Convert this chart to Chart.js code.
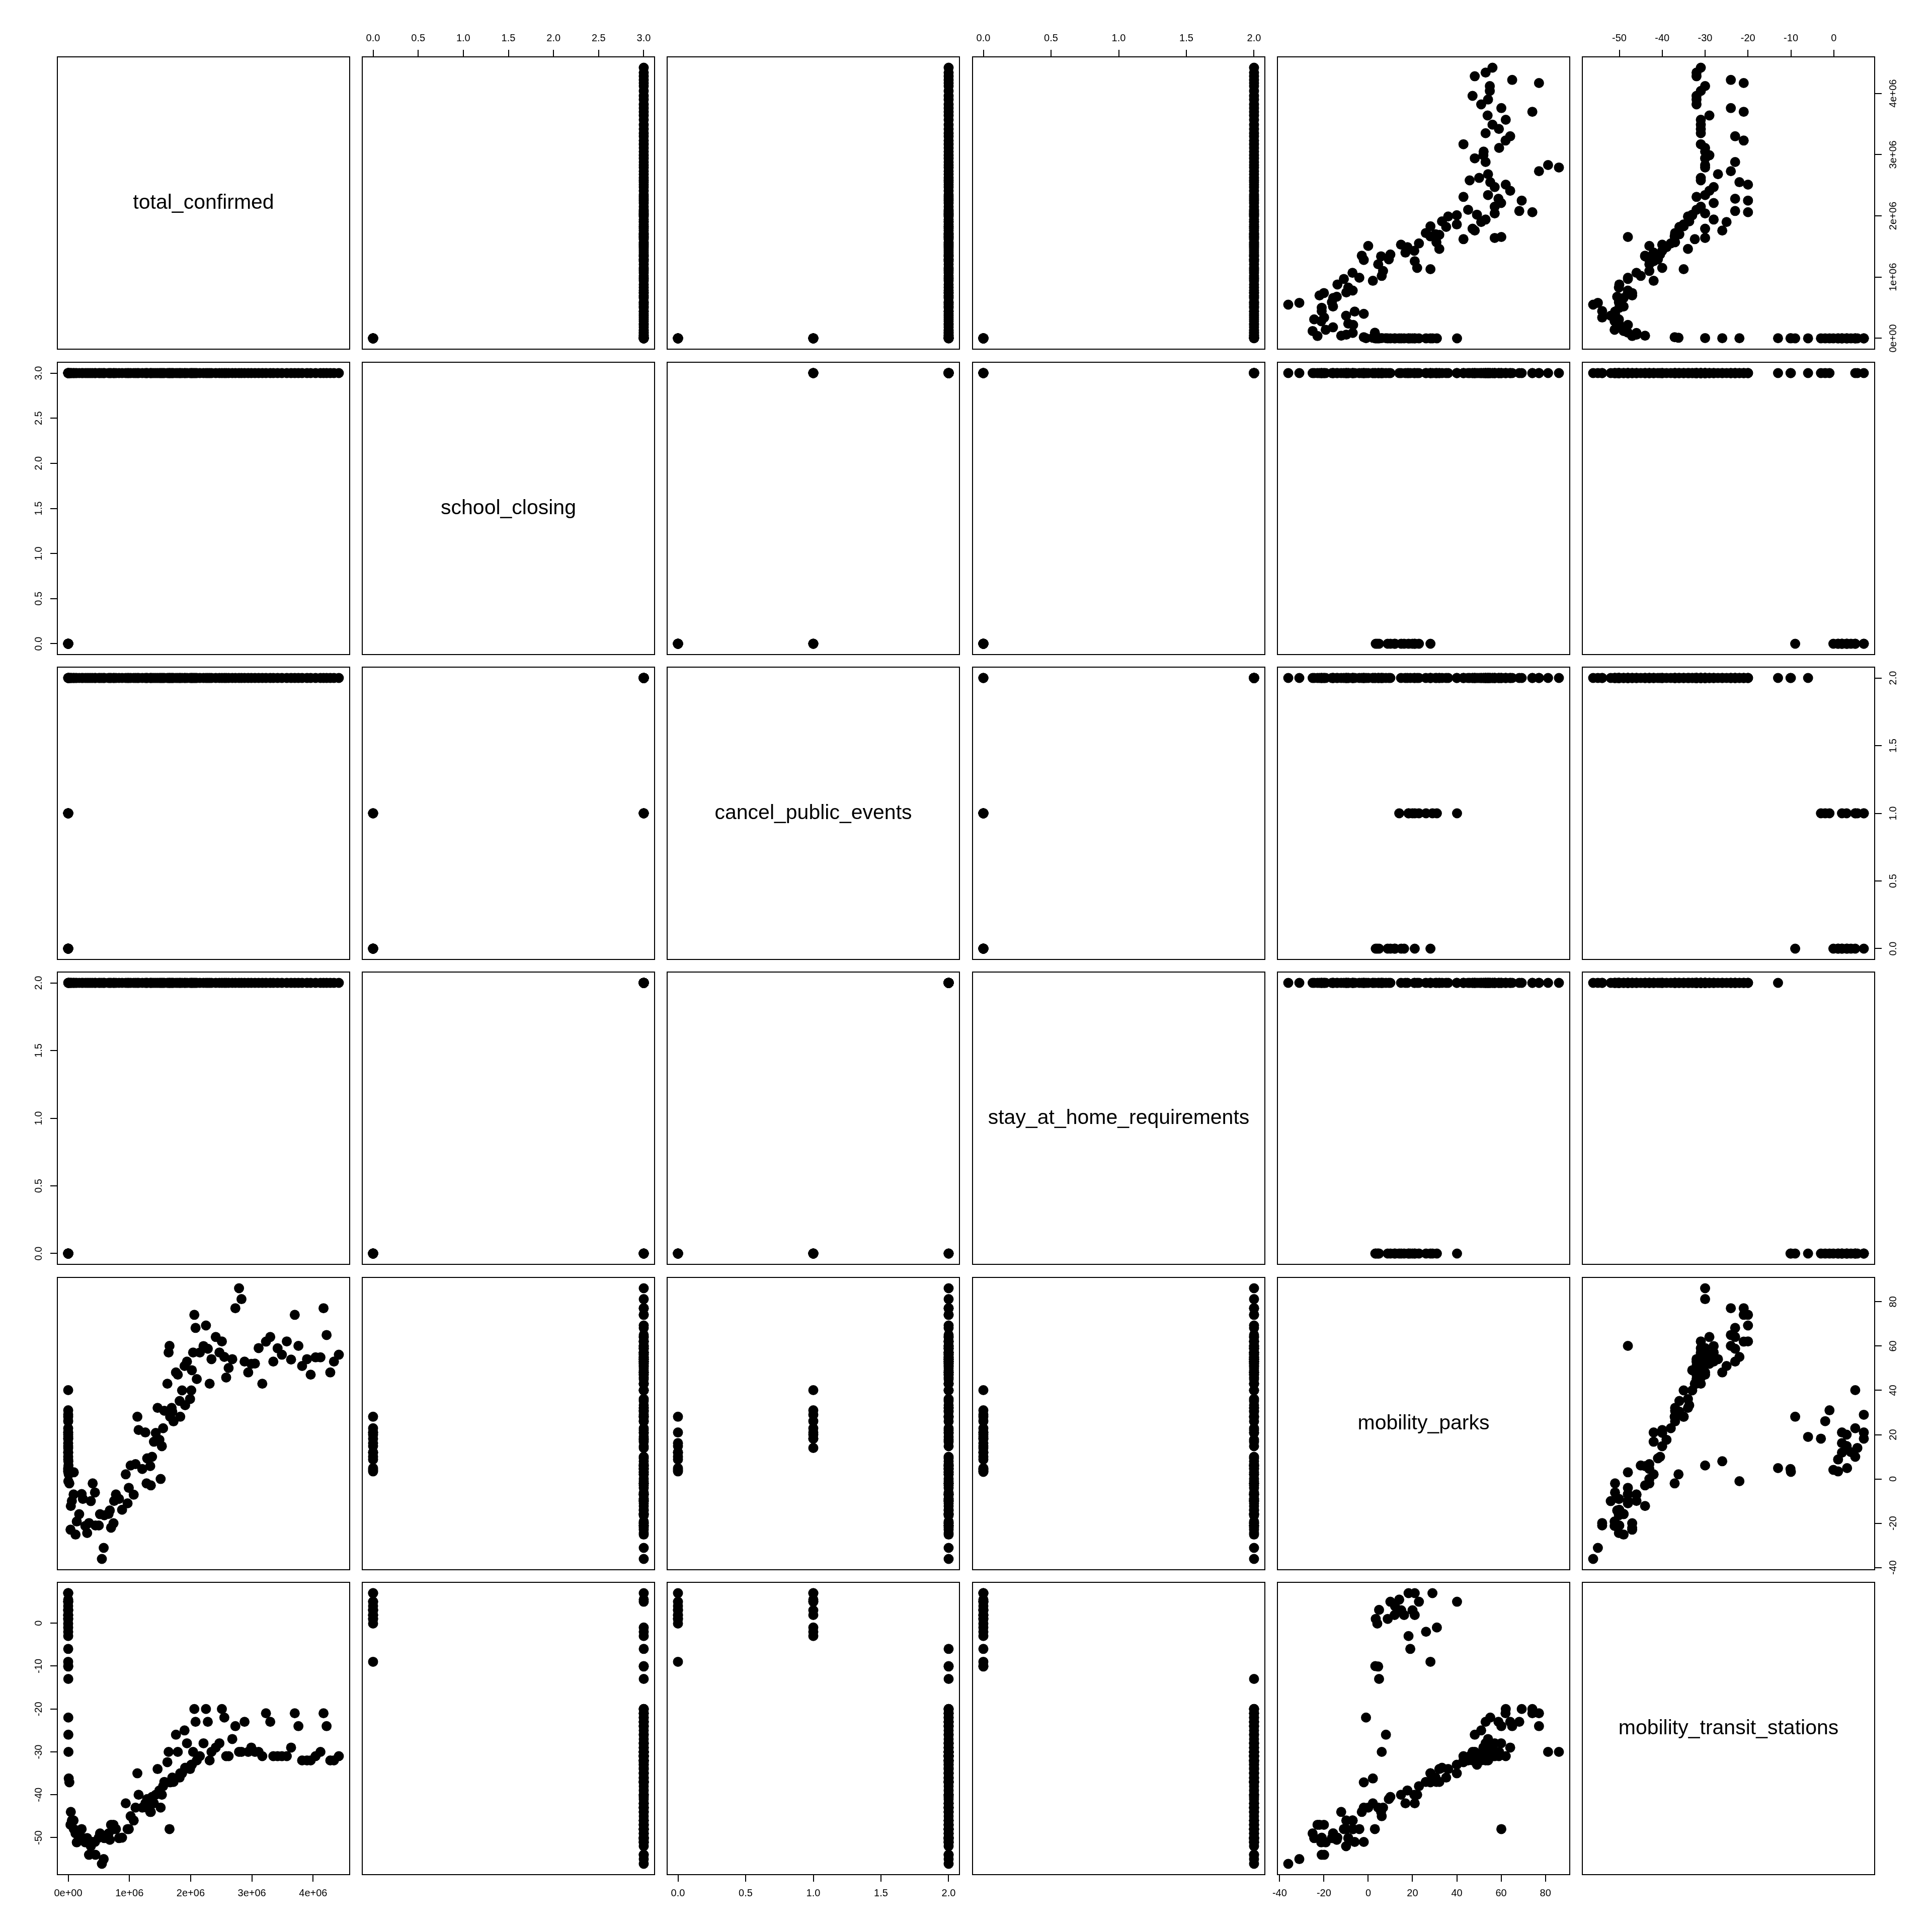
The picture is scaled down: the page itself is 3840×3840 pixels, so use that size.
<!DOCTYPE html>
<html>
<head>
<meta charset="utf-8">
<title>Scatterplot matrix</title>
<script src="https://cdn.jsdelivr.net/npm/chart.js@4.4.1/dist/chart.umd.min.js"></script>
<style>
html,body{margin:0;padding:0;background:#ffffff;}
#wrap{position:relative;width:3840px;height:3840px;background:#ffffff;overflow:hidden;}
#wrap canvas{position:absolute;display:block;}
</style>
</head>
<body>
<div id="wrap"></div>
<script>
// ---------------- DATA ----------------
const variableNames = ['total_confirmed', 'school_closing', 'cancel_public_events',
  'stay_at_home_requirements', 'mobility_parks', 'mobility_transit_stations'];

const totalConfirmed = [
  15,15,25,25,25,35,35,35,53,57,60,62,68,75,100,124,158,221,319,435,541,704,994,1301,1697,2247,2943,4663,9197,19367,
  38000,43000,60000,88000,92000,120000,140000,180000,220000,240000,
  280000,310000,340000,370000,400000,437000,445000,500000,520000,550000,
  580000,590000,660000,680000,700000,740000,750000,780000,830000,880000,
  940000,970000,990000,1020000,1070000,1100000,1130000,1150000,1210000,1260000,
  1280000,1290000,1340000,1350000,1370000,1400000,1430000,1460000,1490000,1510000,
  1530000,1550000,1570000,1620000,1640000,1655000,1665000,1690000,1700000,1720000,
  1760000,1790000,1820000,1830000,1860000,1900000,1910000,1940000,1990000,2010000,
  2020000,2040000,2060000,2080000,2100000,2150000,2210000,2250000,2280000,2310000,
  2340000,2410000,2470000,2510000,2550000,2580000,2620000,2680000,2730000,2790000,
  2830000,2880000,2940000,2990000,3050000,3110000,3170000,3230000,3300000,3350000,
  3420000,3490000,3570000,3640000,3700000,3760000,3820000,3900000,3960000,4040000,
  4120000,4170000,4220000,4280000,4340000,4420000
];

const schoolClosing = [
  0,0,0,0,0,0,0,0,0,0,0,0,0,0,0,3,3,3,3,3,3,3,3,3,3,3,3,3,3,3,
  3,3,3,3,3,3,3,3,3,3,3,3,3,3,3,3,3,3,3,3,
  3,3,3,3,3,3,3,3,3,3,3,3,3,3,3,3,3,3,3,3,
  3,3,3,3,3,3,3,3,3,3,3,3,3,3,3,3,3,3,3,3,
  3,3,3,3,3,3,3,3,3,3,3,3,3,3,3,3,3,3,3,3,
  3,3,3,3,3,3,3,3,3,3,3,3,3,3,3,3,3,3,3,3,
  3,3,3,3,3,3,3,3,3,3,3,3,3,3,3,3
];

const cancelPublicEvents = [
  0,0,0,0,0,0,0,0,0,0,0,1,1,1,1,1,1,1,1,1,1,2,2,2,2,2,2,2,2,2,
  2,2,2,2,2,2,2,2,2,2,2,2,2,2,2,2,2,2,2,2,
  2,2,2,2,2,2,2,2,2,2,2,2,2,2,2,2,2,2,2,2,
  2,2,2,2,2,2,2,2,2,2,2,2,2,2,2,2,2,2,2,2,
  2,2,2,2,2,2,2,2,2,2,2,2,2,2,2,2,2,2,2,2,
  2,2,2,2,2,2,2,2,2,2,2,2,2,2,2,2,2,2,2,2,
  2,2,2,2,2,2,2,2,2,2,2,2,2,2,2,2
];

const stayAtHomeRequirements = [
  0,0,0,0,0,0,0,0,0,0,0,0,0,0,0,0,0,0,0,0,0,0,0,0,2,2,2,2,2,2,
  2,2,2,2,2,2,2,2,2,2,2,2,2,2,2,2,2,2,2,2,
  2,2,2,2,2,2,2,2,2,2,2,2,2,2,2,2,2,2,2,2,
  2,2,2,2,2,2,2,2,2,2,2,2,2,2,2,2,2,2,2,2,
  2,2,2,2,2,2,2,2,2,2,2,2,2,2,2,2,2,2,2,2,
  2,2,2,2,2,2,2,2,2,2,2,2,2,2,2,2,2,2,2,2,
  2,2,2,2,2,2,2,2,2,2,2,2,2,2,2,2
];

const mobilityParks = [
  21.0,16.2,28.1,10.0,12.1,14.9,4.9,11.9,4.1,8.8,3.4,18.2,20.0,22.9,21.0,29.0,40.1,31.0,26.1,18.2,14.0,19.0,3.2,4.5,4.9,-1.0,8.0,6.1,2.1,-2.0,
  -22.9,-12.2,-9.9,-7.0,3.0,-25.1,-19.2,-15.9,-6.8,-9.0,
  -21.2,-24.4,-19.9,-10.0,-2.0,-6.1,-21.0,-21.0,-15.9,-36.1,
  -31.1,-16.4,-15.8,-14.2,-22.0,-20.0,-9.9,-7.0,-9.0,-13.9,
  2.1,-11.0,-4.0,6.1,-7.1,6.7,28.1,22.1,4.5,21.0,
  -2.0,9.3,5.8,-2.9,10.0,16.8,20.8,32.1,17.7,0.0,
  14.8,22.9,30.8,43.0,57.1,60.1,28.1,32.1,30.4,26.0,
  48.1,47.1,35.2,28.1,40.0,51.0,33.3,53.0,36.1,40.0,
  49.1,57.1,74.1,68.2,45.1,57.1,60.0,69.3,58.8,43.0,
  54.1,64.1,57.1,62.1,55.1,45.8,50.1,54.1,77.1,86.1,
  81.2,53.0,48.1,52.0,52.1,59.1,43.0,62.0,64.1,53.0,
  59.0,56.1,62.1,53.9,74.1,60.1,51.0,54.1,47.1,54.9,
  54.9,77.1,65.0,48.1,53.0,56.1
];

const mobilityTransitStations = [
  7.0,1.9,-9.0,5.0,4.0,3.0,3.1,1.9,-0.1,1.0,1.0,7.0,3.0,5.0,1.9,7.0,5.0,-1.0,-2.0,-3.0,5.5,-6.0,-10.0,-10.1,-13.0,-22.0,-26.0,-30.0,-36.2,-37.1,
  -47.0,-44.0,-46.0,-46.0,-48.0,-49.0,-51.1,-50.1,-48.0,-50.1,
  -51.1,-50.1,-54.0,-52.0,-51.0,-51.0,-54.0,-50.0,-49.0,-56.1,
  -55.0,-50.1,-49.0,-50.5,-47.0,-47.0,-48.0,-48.0,-50.1,-50.0,
  -42.0,-48.0,-48.0,-45.0,-46.0,-43.0,-35.0,-40.0,-43.0,-42.0,
  -43.0,-41.0,-44.0,-44.0,-40.5,-42.0,-40.0,-34.0,-39.0,-43.0,
  -40.0,-38.0,-37.0,-32.4,-30.0,-48.0,-37.1,-37.0,-36.0,-37.0,
  -26.0,-30.0,-36.0,-35.0,-35.0,-25.0,-33.7,-28.0,-34.0,-33.0,
  -33.0,-30.0,-20.0,-23.0,-32.0,-31.0,-28.0,-20.0,-23.0,-32.0,
  -30.0,-29.0,-28.0,-20.0,-22.0,-31.0,-31.0,-27.0,-24.0,-30.0,
  -30.0,-23.0,-30.0,-29.0,-30.0,-30.0,-31.0,-21.0,-23.0,-31.0,
  -31.0,-31.0,-31.0,-29.0,-21.0,-24.0,-32.0,-32.0,-32.0,-31.0,
  -30.0,-21.0,-24.0,-32.0,-32.0,-31.0
];

// tick values and tick labels
const confirmedTicks = [0, 1000000, 2000000, 3000000, 4000000];
const confirmedTickLabels = ['0e+00', '1e+06', '2e+06', '3e+06', '4e+06'];
const schoolTicks = [0, 0.5, 1, 1.5, 2, 2.5, 3];
const schoolTickLabels = ['0.0', '0.5', '1.0', '1.5', '2.0', '2.5', '3.0'];
const cancelTicks = [0, 0.5, 1, 1.5, 2];
const cancelTickLabels = ['0.0', '0.5', '1.0', '1.5', '2.0'];
const stayTicks = [0, 0.5, 1, 1.5, 2];
const stayTickLabels = ['0.0', '0.5', '1.0', '1.5', '2.0'];
const parksTicks = [-40, -20, 0, 20, 40, 60, 80];
const parksTickLabels = ['-40', '-20', '0', '20', '40', '60', '80'];
const transitTicks = [-50, -40, -30, -20, -10, 0];
const transitTickLabels = ['-50', '-40', '-30', '-20', '-10', '0'];

// ---------------- LAYOUT / STYLE ----------------
const FONT_FAMILY = '"Liberation Sans", Arial, Helvetica, sans-serif';
const TICK_FONT_SIZE = 20;
const DIAG_FONT_SIZE = 41;
const TICK_LEN = 14;
const LABEL_OFFSET = 37;
const AX = 110;      // room for an axis
const EXT = 45;      // extra room so edge tick labels are not clipped
const PANEL = 581;
const STEP = 606.3;
const OX = 113.7, OY = 113.4;
const POINT_RADIUS = 10;

Chart.defaults.font.family = FONT_FAMILY;
Chart.defaults.color = '#000000';

const series = [totalConfirmed, schoolClosing, cancelPublicEvents, stayAtHomeRequirements, mobilityParks, mobilityTransitStations];
const ticksByVar = [confirmedTicks, schoolTicks, cancelTicks, stayTicks, parksTicks, transitTicks];
const labelsByVar = [confirmedTickLabels, schoolTickLabels, cancelTickLabels, stayTickLabels, parksTickLabels, transitTickLabels];

// R-style axis range: data range extended by 4% on each side
const ranges = series.map(a => {
  const mn = Math.min(...a), mx = Math.max(...a), d = (mx - mn) * 0.04;
  return [mn - d, mx + d];
});

const mctx = document.createElement('canvas').getContext('2d');
mctx.font = TICK_FONT_SIZE + 'px ' + FONT_FAMILY;
function widestLabel(labels) {
  return Math.max(...labels.map(l => mctx.measureText(l).width));
}

const framePlugin = {
  id: 'frame',
  afterDraw(chart) {
    const a = chart.chartArea, ctx = chart.ctx;
    ctx.save();
    ctx.strokeStyle = '#000000';
    ctx.lineWidth = 2;
    ctx.strokeRect(a.left, a.top, a.right - a.left, a.bottom - a.top);
    ctx.restore();
  }
};

const diagLabelPlugin = {
  id: 'diagLabel',
  afterDraw(chart, args, opts) {
    if (!opts || !opts.text) return;
    const a = chart.chartArea, ctx = chart.ctx;
    ctx.save();
    ctx.fillStyle = '#000000';
    ctx.font = DIAG_FONT_SIZE + 'px ' + FONT_FAMILY;
    ctx.textAlign = 'center';
    ctx.textBaseline = 'middle';
    ctx.fillText(opts.text, (a.left + a.right) / 2, (a.top + a.bottom) / 2);
    ctx.restore();
  }
};

function makeScale(v, axis, position, show) {
  const horizontal = axis === 'x';
  const labels = labelsByVar[v];
  const lineH = TICK_FONT_SIZE * 1.2;
  const pad = horizontal ? (LABEL_OFFSET - TICK_LEN - lineH / 2)
                         : (LABEL_OFFSET - TICK_LEN - widestLabel(labels) / 2);
  return {
    type: 'linear',
    axis: axis,
    position: position,
    display: show,
    bounds: 'data',
    min: ranges[v][0],
    max: ranges[v][1],
    grid: {
      display: true, drawOnChartArea: false, drawTicks: true,
      tickLength: TICK_LEN, tickWidth: 2, tickColor: '#000000',
      color: '#000000', lineWidth: 2
    },
    border: { display: false },
    ticks: {
      display: true, autoSkip: false, color: '#000000',
      font: { family: FONT_FAMILY, size: TICK_FONT_SIZE },
      padding: pad,
      minRotation: horizontal ? 0 : 90,
      maxRotation: horizontal ? 0 : 90,
      crossAlign: horizontal ? 'near' : 'center',
      callback: (val, i) => labels[i]
    },
    afterBuildTicks: s => { s.ticks = ticksByVar[v].map(t => ({ value: t })); },
    afterFit: s => {
      if (horizontal) s.height = show ? AX : 0; else s.width = show ? AX : 0;
      s.paddingTop = 0; s.paddingBottom = 0; s.paddingLeft = 0; s.paddingRight = 0;
    }
  };
}

const wrap = document.getElementById('wrap');
for (let r = 0; r < 6; r++) {
  for (let c = 0; c < 6; c++) {
    const showTop = r === 0 && c % 2 === 1;
    const showBottom = r === 5 && c % 2 === 0;
    const showLeft = c === 0 && r % 2 === 1;
    const showRight = c === 5 && r % 2 === 0;
    const padL = showLeft ? 0 : EXT, padR = showRight ? 0 : EXT;
    const padT = showTop ? 0 : EXT, padB = showBottom ? 0 : EXT;
    const px = Math.round(OX + c * STEP), py = Math.round(OY + r * STEP);
    const cl = px - (showLeft ? AX : EXT), ct = py - (showTop ? AX : EXT);
    const cw = PANEL + (showLeft ? AX : EXT) + (showRight ? AX : EXT);
    const ch = PANEL + (showTop ? AX : EXT) + (showBottom ? AX : EXT);
    const cv = document.createElement('canvas');
    cv.width = cw; cv.height = ch;
    cv.style.left = cl + 'px'; cv.style.top = ct + 'px';
    cv.style.width = cw + 'px'; cv.style.height = ch + 'px';
    wrap.appendChild(cv);
    const diag = r === c;
    const pts = diag ? [] : series[c].map((xv, i) => ({ x: xv, y: series[r][i] }));
    new Chart(cv, {
      type: 'scatter',
      data: {
        datasets: [{
          data: pts,
          pointRadius: POINT_RADIUS, pointHoverRadius: POINT_RADIUS,
          pointBackgroundColor: '#000000', pointBorderColor: '#000000', pointBorderWidth: 0,
          showLine: false, clip: false
        }]
      },
      options: {
        responsive: false, animation: false, events: [], devicePixelRatio: 1,
        layout: { padding: { left: padL, right: padR, top: padT, bottom: padB }, autoPadding: false },
        plugins: {
          legend: { display: false },
          tooltip: { enabled: false },
          diagLabel: { text: diag ? variableNames[r] : '' }
        },
        scales: {
          x: makeScale(c, 'x', showTop ? 'top' : 'bottom', showTop || showBottom),
          y: makeScale(r, 'y', showLeft ? 'left' : 'right', showLeft || showRight)
        }
      },
      plugins: [framePlugin, diagLabelPlugin]
    });
  }
}
</script>
</body>
</html>
